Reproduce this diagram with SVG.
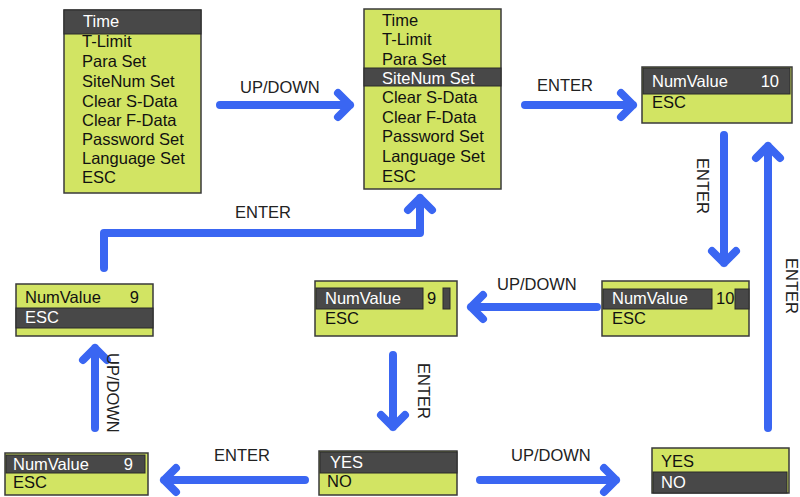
<svg xmlns="http://www.w3.org/2000/svg" width="800" height="497" viewBox="0 0 800 497">
<style>
.box{fill:#d2e463;stroke:#3a3a3a;stroke-width:1.5}
.bar{fill:#484848;stroke:#2a2a2a;stroke-width:1}
.t{font-family:"Liberation Sans",Arial,sans-serif;font-size:16.5px;fill:#111}
.w{fill:#fff}
.lbl{font-family:"Liberation Sans",Arial,sans-serif;font-size:16.5px;fill:#222}
.arr{fill:none;stroke:#3a66f2;stroke-width:8;stroke-linecap:round;stroke-linejoin:round}
</style>
<rect width="800" height="497" fill="#fff"/>
<g id="menu1">
<rect class="box" x="64" y="10" width="137" height="183"/>
<rect class="bar" x="64" y="10" width="137" height="24"/>
<text class="t w" x="83" y="27">Time</text>
<text class="t" x="82" y="47">T-Limit</text>
<text class="t" x="82" y="67">Para Set</text>
<text class="t" x="82" y="87">SiteNum Set</text>
<text class="t" x="82" y="107">Clear S-Data</text>
<text class="t" x="82" y="126">Clear F-Data</text>
<text class="t" x="82" y="145">Password Set</text>
<text class="t" x="82" y="164">Language Set</text>
<text class="t" x="82" y="183">ESC</text>
</g>
<g id="menu2">
<rect class="box" x="364" y="9" width="137" height="180"/>
<rect class="bar" x="364" y="68" width="137" height="18"/>
<text class="t" x="382" y="26">Time</text>
<text class="t" x="382" y="45">T-Limit</text>
<text class="t" x="382" y="65">Para Set</text>
<text class="t w" x="382" y="84">SiteNum Set</text>
<text class="t" x="382" y="103">Clear S-Data</text>
<text class="t" x="382" y="123">Clear F-Data</text>
<text class="t" x="382" y="142">Password Set</text>
<text class="t" x="382" y="162">Language Set</text>
<text class="t" x="382" y="182">ESC</text>
</g>
<g id="num10a">
<rect class="box" x="642" y="67" width="150" height="56"/>
<rect class="bar" x="643" y="68" width="147" height="26"/>
<text class="t w" x="652" y="87">NumValue</text>
<text class="t w" x="779" y="87" text-anchor="end">10</text>
<text class="t" x="652" y="108">ESC</text>
</g>
<g id="num9esc">
<rect class="box" x="16" y="284" width="137" height="52"/>
<rect class="bar" x="16" y="308" width="137" height="20"/>
<text class="t" x="25" y="303">NumValue</text>
<text class="t" x="139" y="303" text-anchor="end">9</text>
<text class="t w" x="25" y="323">ESC</text>
</g>
<g id="num9edit">
<rect class="box" x="315" y="281" width="142" height="55"/>
<rect class="bar" x="316" y="288" width="107" height="21"/>
<rect class="bar" x="443" y="288" width="7" height="21"/>
<text class="t w" x="325" y="304">NumValue</text>
<text class="t" x="427" y="304">9</text>
<text class="t" x="325" y="324">ESC</text>
</g>
<g id="num10edit">
<rect class="box" x="602" y="281" width="147" height="55"/>
<rect class="bar" x="603" y="289" width="109" height="20"/>
<rect class="bar" x="735" y="289" width="14" height="20"/>
<text class="t w" x="612" y="304">NumValue</text>
<text class="t" x="716" y="304">10</text>
<text class="t" x="612" y="324">ESC</text>
</g>
<g id="num9b">
<rect class="box" x="5" y="453" width="143" height="42"/>
<rect class="bar" x="6" y="455" width="139" height="18"/>
<text class="t w" x="13" y="470">NumValue</text>
<text class="t w" x="133" y="470" text-anchor="end">9</text>
<text class="t" x="13" y="488">ESC</text>
</g>
<g id="yes">
<rect class="box" x="319" y="451" width="138" height="44"/>
<rect class="bar" x="320" y="452" width="137" height="21"/>
<text class="t w" x="330" y="468">YES</text>
<text class="t" x="327" y="487">NO</text>
</g>
<g id="no">
<rect class="box" x="652" y="448" width="137" height="45"/>
<rect class="bar" x="653" y="472" width="134" height="21"/>
<text class="t" x="661" y="467">YES</text>
<text class="t w" x="661" y="488">NO</text>
</g>
<g id="connectors">
<path class="arr" d="M220,105 H350 M338,93 L350,105 L338,117"/>
<path class="arr" d="M525,105 H633 M621,93 L633,105 L621,117"/>
<path class="arr" d="M724,135 V263 M712,251 L724,263 L736,251"/>
<path class="arr" d="M768,428 V146 M756,158 L768,146 L780,158"/>
<path class="arr" d="M597,307 H471 M483,295 L471,307 L483,319"/>
<path class="arr" d="M104,268 V233 H420 V198 M408,210 L420,198 L432,210"/>
<path class="arr" d="M393,355 V427 M381,415 L393,427 L405,415"/>
<path class="arr" d="M95,428 V348 M83,360 L95,348 L107,360"/>
<path class="arr" d="M305,480 H164 M176,468 L164,480 L176,492"/>
<path class="arr" d="M480,480 H616 M604,468 L616,480 L604,492"/>
<text class="lbl" x="240" y="93">UP/DOWN</text>
<text class="lbl" x="537" y="91">ENTER</text>
<text class="lbl" transform="translate(697,158) rotate(90)">ENTER</text>
<text class="lbl" transform="translate(786,258) rotate(90)">ENTER</text>
<text class="lbl" x="497" y="290">UP/DOWN</text>
<text class="lbl" x="235" y="218">ENTER</text>
<text class="lbl" transform="translate(418,363) rotate(90)">ENTER</text>
<text class="lbl" transform="translate(107,353) rotate(90)">UP/DOWN</text>
<text class="lbl" x="214" y="461">ENTER</text>
<text class="lbl" x="511" y="461">UP/DOWN</text>
</g>
</svg>
